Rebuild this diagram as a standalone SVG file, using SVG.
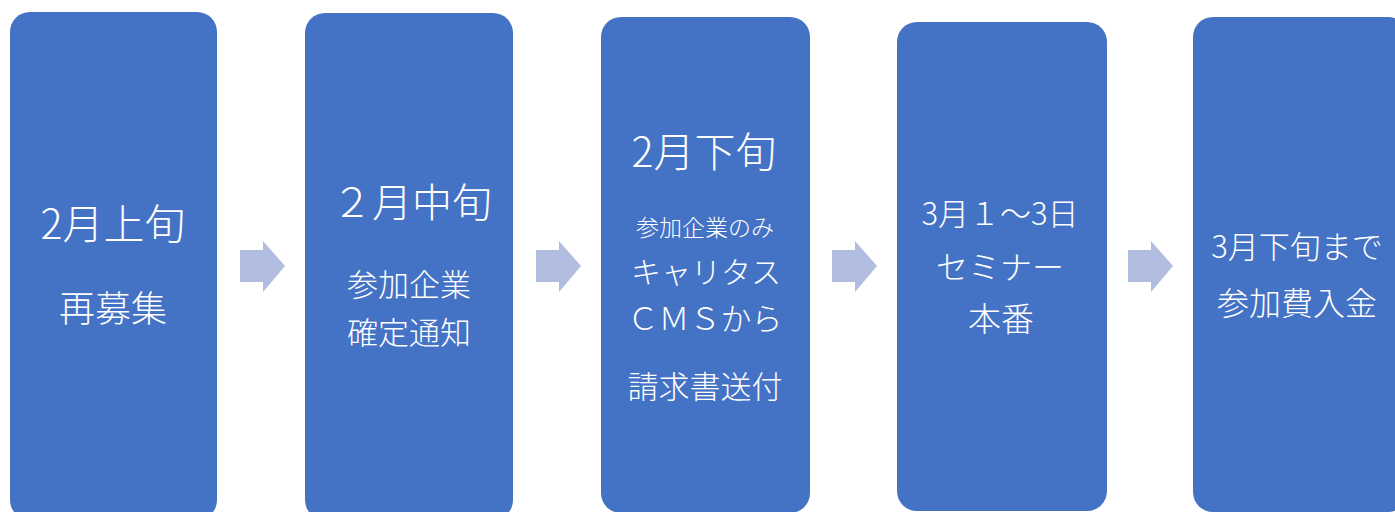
<svg xmlns="http://www.w3.org/2000/svg" width="1395" height="512" viewBox="0 0 1395 512">
<defs>
<style>
.box{fill:#4472C4;}
.t{fill:#FFFFFF;font-family:"Noto Sans CJK JP","Noto Sans",sans-serif;font-weight:300;text-anchor:middle;}
.arrow{fill:#B0BDDF;}
</style>
</defs>
<rect width="1395" height="512" fill="#FFFFFF"/>
<g id="node1">
<rect class="box" x="10" y="12" width="207" height="508" rx="20" ry="20"/>
<text class="t" x="113" y="239" font-size="41">2月上旬</text>
<text class="t" x="113" y="322" font-size="36">再募集</text>
</g>
<g id="node2">
<rect class="box" x="305" y="13" width="208" height="507" rx="20" ry="20"/>
<text class="t" x="412" y="217" font-size="40">２月中旬</text>
<text class="t" x="409" y="296" font-size="31">参加企業</text>
<text class="t" x="409" y="344" font-size="31">確定通知</text>
</g>
<g id="node3">
<rect class="box" x="601" y="17" width="209" height="496" rx="20" ry="20"/>
<text class="t" x="704" y="167" font-size="41">2月下旬</text>
<text class="t" x="705" y="236" font-size="23">参加企業のみ</text>
<text class="t" x="706" y="283" font-size="30">キャリタス</text>
<text class="t" x="705" y="330" font-size="31">ＣＭＳから</text>
<text class="t" x="705" y="398" font-size="31">請求書送付</text>
</g>
<g id="node4">
<rect class="box" x="897" y="22" width="210" height="489" rx="20" ry="20"/>
<text class="t" x="1000" y="225" font-size="31">3月１～3日</text>
<text class="t" x="1000" y="279" font-size="32">セミナー</text>
<text class="t" x="1001" y="331" font-size="33">本番</text>
</g>
<g id="node5">
<rect class="box" x="1193" y="17" width="215" height="495" rx="20" ry="20"/>
<text class="t" x="1297" y="258" font-size="31">3月下旬まで</text>
<text class="t" x="1297" y="315" font-size="32">参加費入金</text>
</g>
<g id="connectors">
<polygon class="arrow" points="240,250 263,250 263,241 285,266 263,292 263,282 240,282"/>
<polygon class="arrow" points="536,250 559,250 559,241 581,266 559,292 559,282 536,282"/>
<polygon class="arrow" points="832,250 855,250 855,241 877,266 855,292 855,282 832,282"/>
<polygon class="arrow" points="1128,250 1151,250 1151,241 1173,266 1151,292 1151,282 1128,282"/>
</g>
</svg>
